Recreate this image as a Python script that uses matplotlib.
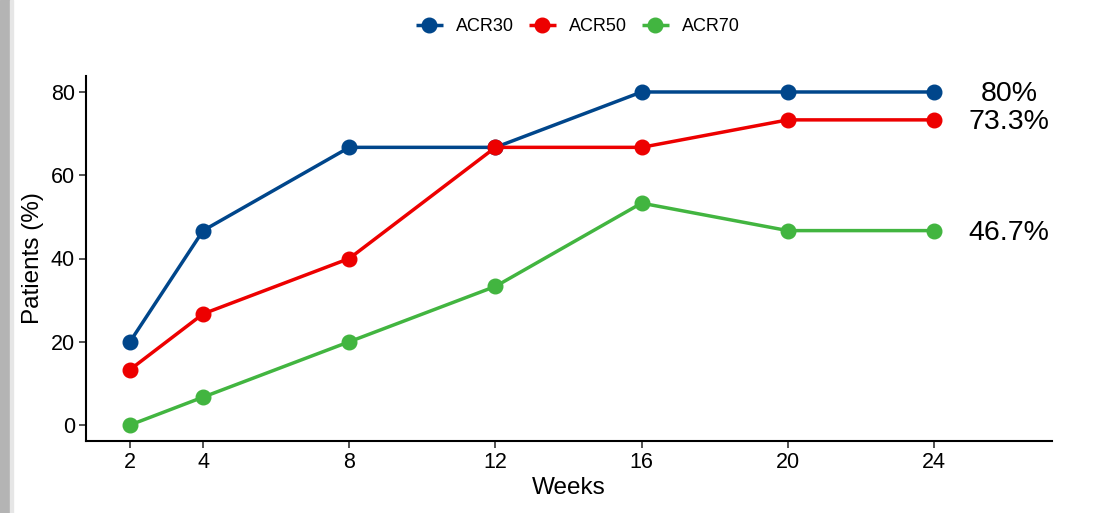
import matplotlib
matplotlib.use("Agg")
import matplotlib.pyplot as plt
from matplotlib.patches import Rectangle

weeks = [2, 4, 8, 12, 16, 20, 24]
acr30 = [20, 46.7, 66.7, 66.7, 80, 80, 80]
acr50 = [13.3, 26.7, 40, 66.7, 66.7, 73.3, 73.3]
acr70 = [0, 6.7, 20, 33.3, 53.3, 46.7, 46.7]
series_names = ["ACR30", "ACR50", "ACR70"]
end_labels = ["80%", "73.3%", "46.7%"]
colors = ["#00468B", "#ED0000", "#42B540"]
yticks = [0, 20, 40, 60, 80]

plt.rcParams['font.family'] = ['Liberation Sans', 'DejaVu Sans']

fig = plt.figure(figsize=(10.93, 5.13), dpi=100)
# screenshot border strip on the left
fig.patches.append(Rectangle((0, 0), 10/1093, 1, transform=fig.transFigure,
                             color="#b4b4b4", zorder=-10))
fig.patches.append(Rectangle((10/1093, 0), 3/1093, 1, transform=fig.transFigure,
                             color="#e6e6e6", zorder=-10))

ax = fig.add_axes([86/1093, 72/513, (1052-86)/1093, (441-76)/513])

for vals, name, c, lab in zip([acr30, acr50, acr70], series_names, colors, end_labels):
    ax.plot(weeks, vals, color=c, lw=2.5, marker="o", markersize=10.5, label=name,
            solid_capstyle="butt", clip_on=False)
    ax.annotate(lab, xy=(26.05, vals[-1]), xytext=(0, -1.5), textcoords="offset points",
                fontsize=20.5, ha="center", va="center", color="black")

ax.set_xlim(0.796, 27.23)
ax.set_ylim(-3.84, 83.84)
ax.set_xticks(weeks)
ax.set_yticks(yticks)
ax.tick_params(labelsize=15.5, length=5, width=1.2, color="#333333", pad=3)
for s in ["top", "right"]:
    ax.spines[s].set_visible(False)
for s in ["left", "bottom"]:
    ax.spines[s].set_linewidth(1.5)
ax.set_xlabel("Weeks", fontsize=17.5, labelpad=3)
ax.set_ylabel("Patients (%)", fontsize=17.5, labelpad=5)

leg = fig.legend(loc="center", bbox_to_anchor=(578/1093, 1 - 27/513), ncol=3,
                 frameon=False, fontsize=13, handlelength=1.5, columnspacing=0.8,
                 handletextpad=0.75, markerscale=1.0)

fig.savefig("out.png", dpi=100)
